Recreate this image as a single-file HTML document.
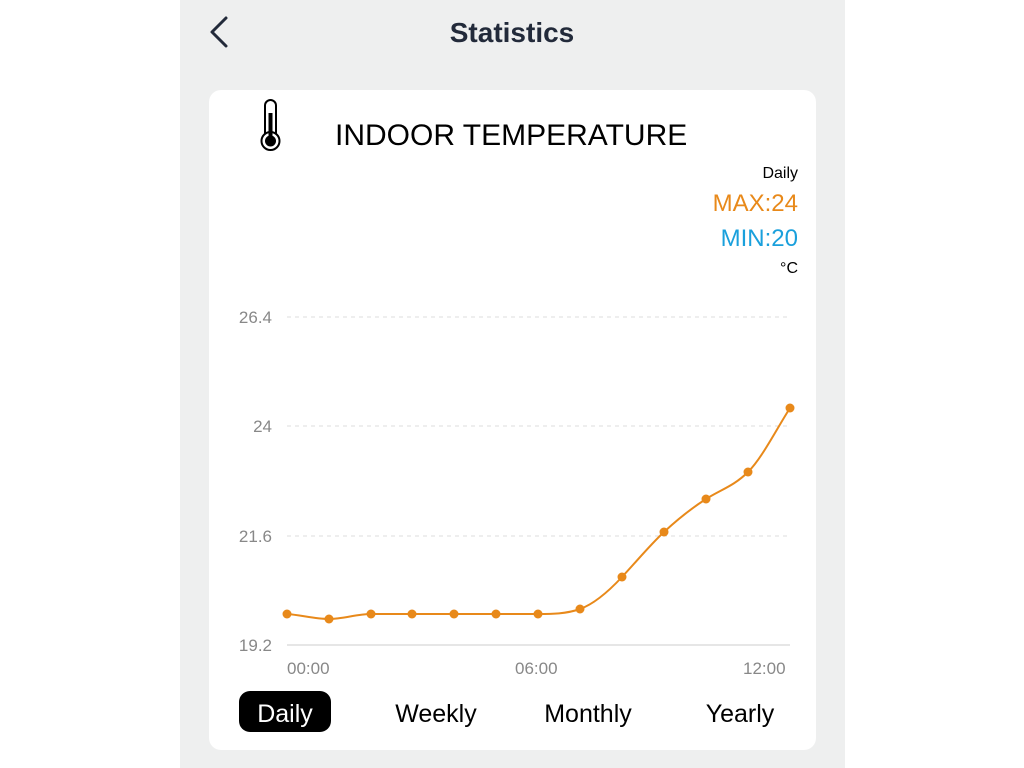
<!DOCTYPE html>
<html><head><meta charset="utf-8"><style>
body{margin:0;width:1024px;height:768px;background:#fff;font-family:"Liberation Sans",sans-serif;position:relative;overflow:hidden}
.col{position:absolute;left:180px;top:0;width:665px;height:768px;background:#eeefef}
.card{position:absolute;left:209px;top:90px;width:607px;height:660px;background:#fff;border-radius:12px}
.t{position:absolute;white-space:nowrap;line-height:1}
</style></head><body>
<div class="col"></div>
<div class="card"></div>
<svg style="position:absolute;left:0;top:0" width="1024" height="768">
<polyline points="226,18 212,32 226,46" fill="none" stroke="#222a3a" stroke-width="3" stroke-linecap="round" stroke-linejoin="round"/>
<rect x="265" y="100" width="11" height="46" rx="5.5" fill="none" stroke="#000" stroke-width="2"/>
<circle cx="270.5" cy="141" r="9" fill="#fff" stroke="#000" stroke-width="2"/>
<circle cx="270.5" cy="141" r="5.5" fill="#000"/>
<rect x="268.5" y="113" width="4" height="28" fill="#000"/>
<g stroke="#ddd" stroke-width="1" stroke-dasharray="4,4">
<line x1="287" y1="317" x2="790" y2="317"/><line x1="287" y1="426" x2="790" y2="426"/><line x1="287" y1="536" x2="790" y2="536"/>
</g>
<line x1="287" y1="645" x2="790" y2="645" stroke="#e6e6e6" stroke-width="2"/>
<path d="M287,614 C301,615 315,619 329,619 C343,619 357,614 371,614 L538,614 C552,614 566,614 580,609 C594,604 608,592 622,577 C636,562 650,545 664,532 C678,519 692,508 706,499 C720,490 734,486 748,472 C762,458 776,430 790,408" fill="none" stroke="#e8891a" stroke-width="2"/>
<g fill="#e8891a">
<circle cx="287" cy="614" r="4.5"/><circle cx="329" cy="619" r="4.5"/><circle cx="371" cy="614" r="4.5"/><circle cx="412" cy="614" r="4.5"/><circle cx="454" cy="614" r="4.5"/><circle cx="496" cy="614" r="4.5"/><circle cx="538" cy="614" r="4.5"/><circle cx="580" cy="609" r="4.5"/><circle cx="622" cy="577" r="4.5"/><circle cx="664" cy="532" r="4.5"/><circle cx="706" cy="499" r="4.5"/><circle cx="748" cy="472" r="4.5"/><circle cx="790" cy="408" r="4.5"/>
</g>
<rect x="239" y="691" width="92" height="41" rx="11" fill="#000"/>
</svg>
<div class="t" style="left:0;width:1024px;text-align:center;top:19px;font-size:28px;font-weight:bold;color:#222a3a">Statistics</div>
<div class="t" style="left:335px;top:121px;font-size:30px;color:#000">INDOOR TEMPERATURE</div>
<div class="t" style="right:226px;top:166px;font-size:16px;color:#000">Daily</div>
<div class="t" style="right:226px;top:192px;font-size:24px;color:#e8891a">MAX:24</div>
<div class="t" style="right:226px;top:227px;font-size:24px;color:#1aa0dc">MIN:20</div>
<div class="t" style="right:226px;top:261px;font-size:16px;color:#000">°C</div>
<div class="t" style="right:752px;top:309px;font-size:17px;color:#888">26.4</div>
<div class="t" style="right:752px;top:418px;font-size:17px;color:#888">24</div>
<div class="t" style="right:752px;top:528px;font-size:17px;color:#888">21.6</div>
<div class="t" style="right:752px;top:637px;font-size:17px;color:#888">19.2</div>
<div class="t" style="left:287px;top:660px;font-size:17px;color:#888">00:00</div>
<div class="t" style="left:515px;top:660px;font-size:17px;color:#888">06:00</div>
<div class="t" style="left:743px;top:660px;font-size:17px;color:#888">12:00</div>
<div class="t" style="left:239px;width:92px;text-align:center;top:702px;font-size:25px;color:#fff">Daily</div>
<div class="t" style="left:376px;width:120px;text-align:center;top:702px;font-size:25px;color:#000">Weekly</div>
<div class="t" style="left:528px;width:120px;text-align:center;top:702px;font-size:25px;color:#000">Monthly</div>
<div class="t" style="left:680px;width:120px;text-align:center;top:702px;font-size:25px;color:#000">Yearly</div>
</body></html>
